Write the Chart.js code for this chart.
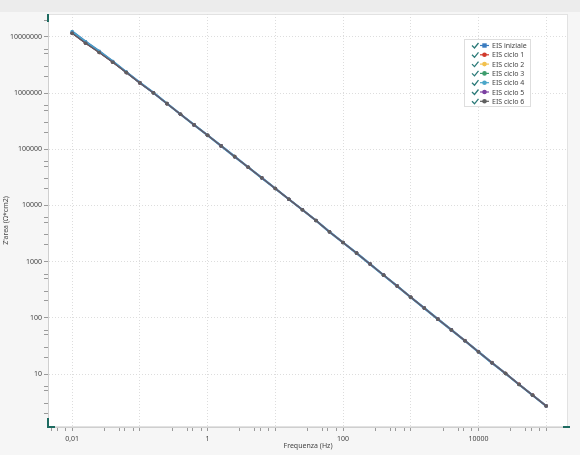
<!DOCTYPE html>
<html>
  <head>
    <title>EIS</title>
    <script src="https://cdn.jsdelivr.net/npm/chart.js"></script>
    <style>
      body { margin: 0; background: #f6f6f6; }
      #box { width: 580px; height: 455px; }
    </style>
  </head>

  <body>
    <div id="box"><canvas id="grafico"></canvas></div>

    <script>
      // frequenze (Hz)
      var frequenze = [0.01, 0.01585, 0.02512, 0.03981, 0.0631, 0.1, 0.1585, 0.2512, 0.3981, 0.631,
        1, 1.585, 2.512, 3.981, 6.31, 10, 15.85, 25.12, 39.81, 63.1,
        100, 158.5, 251.2, 398.1, 631, 1000, 1585, 2512, 3981, 6310,
        10000, 15849, 25119, 39811, 63096, 100000];

      var eisIniziale = [12600000, 8300000, 5600000, 3700000, 2380000, 1540000, 1020000, 655000, 422000, 273000,
        178000, 115000, 74000, 48000, 31000, 20000, 12900, 8400, 5400, 3390,
        2190, 1420, 904, 575, 367, 233, 149, 94.8, 61, 39,
        24.8, 15.8, 10.2, 6.5, 4.2, 2.69];
      var eisCiclo1 = [11700000, 7750000, 5320000, 3560000, 2325000, 1520000, 1010000, 650000, 420000, 272000,
        178000, 115000, 74000, 48000, 31000, 20000, 12900, 8400, 5400, 3390,
        2190, 1420, 904, 576, 368, 234, 150, 95.5, 61.5, 39.4,
        25, 16, 10.3, 6.6, 4.25, 2.72];
      var eisCiclo2 = [11650000, 7720000, 5310000, 3555000, 2322000, 1520000, 1010000, 650000, 420000, 272000,
        178000, 115000, 74000, 48000, 31000, 20000, 12900, 8400, 5400, 3390,
        2190, 1420, 904, 575, 367, 233, 149, 94.8, 61, 39,
        24.8, 15.8, 10.2, 6.5, 4.2, 2.69];
      var eisCiclo3 = [11800000, 7800000, 5350000, 3570000, 2330000, 1522000, 1010000, 650000, 420000, 272000,
        178000, 115000, 74000, 48000, 31000, 20000, 12900, 8400, 5400, 3390,
        2190, 1420, 904, 575, 367, 233, 149, 94.8, 61, 39,
        24.8, 15.8, 10.2, 6.5, 4.2, 2.69];
      var eisCiclo4 = [12300000, 8100000, 5500000, 3650000, 2360000, 1530000, 1015000, 652000, 421000, 272000,
        178000, 115000, 74000, 48000, 31000, 20000, 12900, 8400, 5400, 3390,
        2190, 1420, 904, 575, 367, 233, 149, 94.8, 61, 39,
        24.8, 15.8, 10.2, 6.5, 4.2, 2.69];
      var eisCiclo5 = [11600000, 7700000, 5300000, 3550000, 2320000, 1520000, 1010000, 650000, 420000, 272000,
        178000, 115000, 74000, 48000, 31000, 20000, 12900, 8400, 5400, 3390,
        2190, 1420, 904, 575, 367, 233, 149, 94.8, 61, 39,
        24.8, 15.8, 10.2, 6.5, 4.2, 2.69];
      var eisCiclo6 = [11600000, 7700000, 5300000, 3550000, 2320000, 1520000, 1010000, 650000, 420000, 272000,
        178000, 115000, 74000, 48000, 31000, 20000, 12900, 8400, 5400, 3390,
        2190, 1420, 904, 575, 367, 233, 149, 94.8, 61, 39,
        24.8, 15.8, 10.2, 6.5, 4.2, 2.69];

      var nomiSerie = ["EIS iniziale", "EIS ciclo 1", "EIS ciclo 2", "EIS ciclo 3", "EIS ciclo 4", "EIS ciclo 5", "EIS ciclo 6"];
      var valoriSerie = [eisIniziale, eisCiclo1, eisCiclo2, eisCiclo3, eisCiclo4, eisCiclo5, eisCiclo6];
      var coloriSerie = ["#3a7bbf", "#d0392b", "#f2c14e", "#3d9c6c", "#4aa6c8", "#7b3fa1", "#5f5f5f"];

      // etichette degli assi
      var tickX = [0.01, 1, 100, 10000];
      var etichetteX = ["0,01", "1", "100", "10000"];
      var tickY = [10, 100, 1000, 10000, 100000, 1000000, 10000000];
      var etichetteY = ["10", "100", "1000", "10000", "100000", "1000000", "10000000"];

      var font = { family: "Noto Sans", size: 7 };

      function isDecade(v) {
        var l = Math.log10(v);
        return Math.abs(l - Math.round(l)) < 1e-6;
      }

      function costruisciTick(scale, minori) {
        var ticks = [];
        for (var e = -4; e <= 8; e++) {
          var d = Math.pow(10, e);
          [1].concat(minori).forEach(function (m) {
            var v = m * d;
            if (v >= scale.min && v <= scale.max) ticks.push({ value: v });
          });
        }
        ticks.sort(function (a, b) { return a.value - b.value; });
        scale.ticks = ticks;
      }

      function etichetta(valori, testi) {
        return function (value) {
          for (var i = 0; i < valori.length; i++) {
            if (Math.abs(valori[i] - value) / valori[i] < 1e-6) return testi[i];
          }
          return "";
        };
      }

      var sfondo = {
        id: "sfondo",
        beforeDraw: function (chart) {
          var c = chart.ctx, a = chart.chartArea;
          c.save();
          c.fillStyle = "#f6f6f6";
          c.fillRect(0, 0, chart.width, chart.height);
          c.fillStyle = "#ececec";
          c.fillRect(0, 0, chart.width, 12);
          c.fillStyle = "#ffffff";
          c.fillRect(a.left, a.top, a.right - a.left, a.bottom - a.top);
          c.strokeStyle = "#e2e2e2";
          c.lineWidth = 1;
          c.strokeRect(a.left + 0.5, a.top + 0.5, a.right - a.left - 1, a.bottom - a.top - 1);
          c.restore();
        },
        afterDraw: function (chart) {
          var c = chart.ctx, a = chart.chartArea;
          c.save();
          // maniglie di selezione
          c.strokeStyle = "#1e6b61";
          c.lineWidth = 2;
          c.beginPath();
          c.moveTo(a.left, a.top);
          c.lineTo(a.left, a.top + 8);
          c.moveTo(a.left, a.bottom - 9);
          c.lineTo(a.left, a.bottom);
          c.lineTo(a.left + 7, a.bottom);
          c.moveTo(a.right - 5, a.bottom);
          c.lineTo(a.right + 2, a.bottom);
          c.stroke();

          // legenda
          var lx = 464, ly = 39, lw = 66, lh = 67;
          c.fillStyle = "#ffffff";
          c.fillRect(lx, ly, lw, lh);
          c.strokeStyle = "#dedede";
          c.lineWidth = 1;
          c.strokeRect(lx + 0.5, ly + 0.5, lw, lh);
          c.font = "7px 'Noto Sans'";
          c.textBaseline = "middle";
          nomiSerie.forEach(function (nome, i) {
            var y = ly + 6.5 + i * 9.3;
            c.strokeStyle = "#2b7a78";
            c.lineWidth = 1.3;
            c.beginPath();
            c.moveTo(472, y);
            c.lineTo(474.5, y + 2.5);
            c.lineTo(478.5, y - 2.5);
            c.stroke();
            c.strokeStyle = coloriSerie[i];
            c.lineWidth = 1.2;
            c.beginPath();
            c.moveTo(480, y);
            c.lineTo(489, y);
            c.stroke();
            c.fillStyle = coloriSerie[i];
            if (i == 0) {
              c.fillRect(482.3, y - 2.2, 4.4, 4.4);
            } else {
              c.beginPath();
              c.arc(484.5, y, 2.3, 0, Math.PI * 2);
              c.fill();
            }
            c.fillStyle = "#444444";
            c.fillText(nome, 492, y + 0.5);
          });
          c.restore();
        },
      };

      var datasets = nomiSerie.map(function (nome, i) {
        return {
          label: nome,
          data: frequenze.map(function (f, j) { return { x: f, y: valoriSerie[i][j] }; }),
          borderColor: coloriSerie[i],
          backgroundColor: coloriSerie[i],
          borderWidth: i == 0 || i == 4 ? 2 : 1.2,
          pointRadius: 1.8,
          pointBorderWidth: 0,
          pointStyle: i == 0 ? "rect" : "circle",
          order: nomiSerie.length - 1 - i,
        };
      });

      var grafico = new Chart(document.getElementById("grafico").getContext("2d"), {
        type: "line",
        data: { datasets: datasets },
        plugins: [sfondo],
        options: {
          responsive: true,
          maintainAspectRatio: false,
          animation: false,
          layout: { padding: { top: 14, right: 12, left: 0, bottom: 0 } },
          plugins: { legend: { display: false }, tooltip: { enabled: false } },
          scales: {
            x: {
              type: "logarithmic",
              position: "bottom",
              min: 0.0044,
              max: 210000,
              afterBuildTicks: function (scale) { costruisciTick(scale, [3, 5, 6, 8]); },
              afterFit: function (scale) { scale.height = 28; },
              grid: {
                color: function (ctx) { return ctx.tick && isDecade(ctx.tick.value) ? "#dddddd" : "rgba(0,0,0,0)"; },
                tickColor: "#9a9a9a",
                tickLength: 4,
              },
              border: { color: "#cfcfcf", dash: [1, 2] },
              ticks: {
                autoSkip: false,
                maxRotation: 0,
                padding: 4,
                font: font,
                color: "#444",
                callback: etichetta(tickX, etichetteX),
              },
              title: {
                display: true,
                text: "Frequenza (Hz)",
                font: font,
                color: "#444",
                padding: { top: 0, bottom: 5 },
              },
            },
            y: {
              type: "logarithmic",
              min: 1.14,
              max: 25600000,
              afterBuildTicks: function (scale) { costruisciTick(scale, [2, 3, 5, 6]); },
              afterFit: function (scale) { scale.width = 48; },
              grid: {
                color: function (ctx) { return ctx.tick && isDecade(ctx.tick.value) ? "#dddddd" : "rgba(0,0,0,0)"; },
                tickColor: "#9a9a9a",
                tickLength: 4,
              },
              border: { color: "#cfcfcf", dash: [1, 2] },
              ticks: {
                autoSkip: false,
                padding: 2,
                font: font,
                color: "#444",
                callback: etichetta(tickY, etichetteY),
              },
              title: {
                display: true,
                text: "Z'area (Ω*cm2)",
                font: font,
                color: "#444",
                padding: { top: 2, bottom: 0 },
              },
            },
          },
        },
      });
    </script>
  </body>
</html>
